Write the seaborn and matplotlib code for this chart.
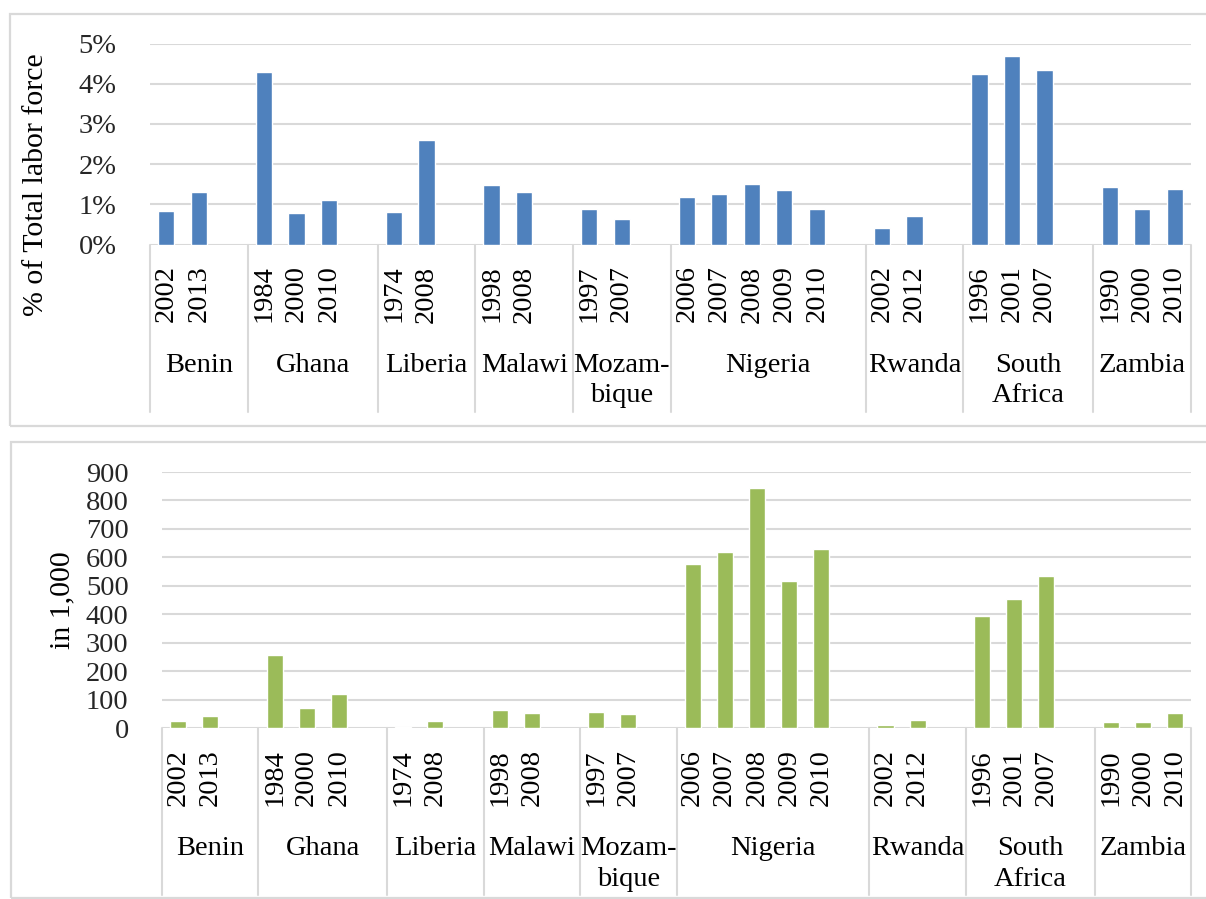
import matplotlib
matplotlib.use("Agg")
import matplotlib.pyplot as plt
from matplotlib.patches import Rectangle
import pandas as pd
import seaborn as sns

# ---- data -------------------------------------------------------------
countries = ["Benin", "Ghana", "Liberia", "Malawi", "Mozam-\nbique",
             "Nigeria", "Rwanda", "South\nAfrica", "Zambia"]
years = [[2002, 2013], [1984, 2000, 2010], [1974, 2008], [1998, 2008],
         [1997, 2007], [2006, 2007, 2008, 2009, 2010], [2002, 2012],
         [1996, 2001, 2007], [1990, 2000, 2010]]
# share of the total labour force, percent
share_pct = [[0.84, 1.30], [4.28, 0.78, 1.11], [0.80, 2.59], [1.48, 1.31],
             [0.88, 0.63], [1.18, 1.25, 1.50, 1.36, 0.89], [0.42, 0.71],
             [4.25, 4.69, 4.34], [1.43, 0.88, 1.39]]
# number of workers, thousands
workers_k = [[26, 41], [256, 69, 121], [2, 24], [65, 54], [58, 48],
             [577, 618, 843, 516, 629], [12, 28], [394, 454, 535],
             [22, 22, 51]]

BLUE = "#4F81BD"
GREEN = "#9BBB59"
GRID = "#D9D9D9"
FONT = 20.5

sns.set_theme(style="white")
plt.rcParams["font.family"] = ["Liberation Serif", "DejaVu Serif"]
plt.rcParams["text.color"] = "black"

W, H = 1206, 899
fig = plt.figure(figsize=(W / 100, H / 100), dpi=100)


def fig_rect(x0, y0, x1, y1):
    """pixel box (top-left origin) -> figure fraction [l, b, w, h]"""
    return [x0 / W, 1 - y1 / H, (x1 - x0) / W, (y1 - y0) / H]


# slot layout: every country's years followed by one empty slot
slot_order, slot_year, slot_pos = [], [], []
bounds = [-0.5]
for ci, (c, ys) in enumerate(zip(countries, years)):
    for y in ys:
        slot_pos.append(len(slot_order))
        slot_order.append(f"{c}|{y}")
        slot_year.append(str(y))
    if ci < len(countries) - 1:
        slot_order.append(f"{c}|gap")
    bounds.append(len(slot_order) - 0.5)


def make_frame(values):
    rows = []
    for c, ys, vs in zip(countries, years, values):
        for y, v in zip(ys, vs):
            rows.append({"slot": f"{c}|{y}", "value": v})
    return pd.DataFrame(rows)


def draw_panel(box, axbox, values, color, ylim, ticks, ticklabels, ylabel,
               ylabel_xy, sep_bottom):
    # panel frame
    bx0, by0, bx1, by1 = box
    fig.add_artist(Rectangle((bx0 / W, 1 - by1 / H), (bx1 - bx0) / W,
                             (by1 - by0) / H, transform=fig.transFigure,
                             fill=False, edgecolor=GRID, linewidth=1.6))
    ax = fig.add_axes(fig_rect(*axbox))
    df = make_frame(values)
    sns.barplot(data=df, x="slot", y="value", order=slot_order, color=color,
                saturation=1, width=0.5, errorbar=None, ax=ax, zorder=3)
    ax.set_xlim(-0.5, len(slot_order) - 0.5)
    ax.set_ylim(*ylim)
    ax.set_yticks(ticks)
    ax.set_yticklabels(ticklabels, fontsize=FONT)
    ax.tick_params(axis="y", length=0, pad=24)
    ax.set_xticks([])
    ax.set_xlabel("")
    ax.set_ylabel("")
    for s in ax.spines.values():
        s.set_visible(False)
    for t in ticks:
        ax.axhline(t, color=GRID, linewidth=1.5, zorder=1)

    ax_h = axbox[3] - axbox[1]
    trans = ax.get_xaxis_transform()
    # category separators
    for b in bounds:
        ax.plot([b, b], [0, -(sep_bottom - axbox[3]) / ax_h], color=GRID,
                linewidth=1.5, transform=trans, clip_on=False)
    # year labels
    for p, yl in zip(slot_pos, slot_year):
        ax.text(p, -21 / ax_h, yl, rotation=90, ha="center", va="top",
                fontsize=FONT, transform=trans)
    # country labels
    for i, c in enumerate(countries):
        mid = (bounds[i] + bounds[i + 1]) / 2
        ax.text(mid, -108 / ax_h, c, ha="center", va="top", fontsize=FONT,
                linespacing=1.3, transform=trans)
    # axis title
    fig.text(ylabel_xy[0] / W, 1 - ylabel_xy[1] / H, ylabel,
             rotation=90, ha="center", va="center", fontsize=21.5)
    return ax


draw_panel(box=(10, 14, 1215, 426), axbox=(150, 43.5, 1191, 244.5),
           values=share_pct, color=BLUE, ylim=(0, 5),
           ticks=[0, 1, 2, 3, 4, 5],
           ticklabels=[f"{t}%" for t in range(6)],
           ylabel="% of Total labor force", ylabel_xy=(36, 185),
           sep_bottom=412)

draw_panel(box=(11, 442, 1215, 898), axbox=(162, 472, 1191, 728),
           values=workers_k, color=GREEN, ylim=(0, 900),
           ticks=list(range(0, 1000, 100)),
           ticklabels=[str(t) for t in range(0, 1000, 100)],
           ylabel="in 1,000", ylabel_xy=(62, 600), sep_bottom=895)

fig.savefig("out.png", dpi=100)
